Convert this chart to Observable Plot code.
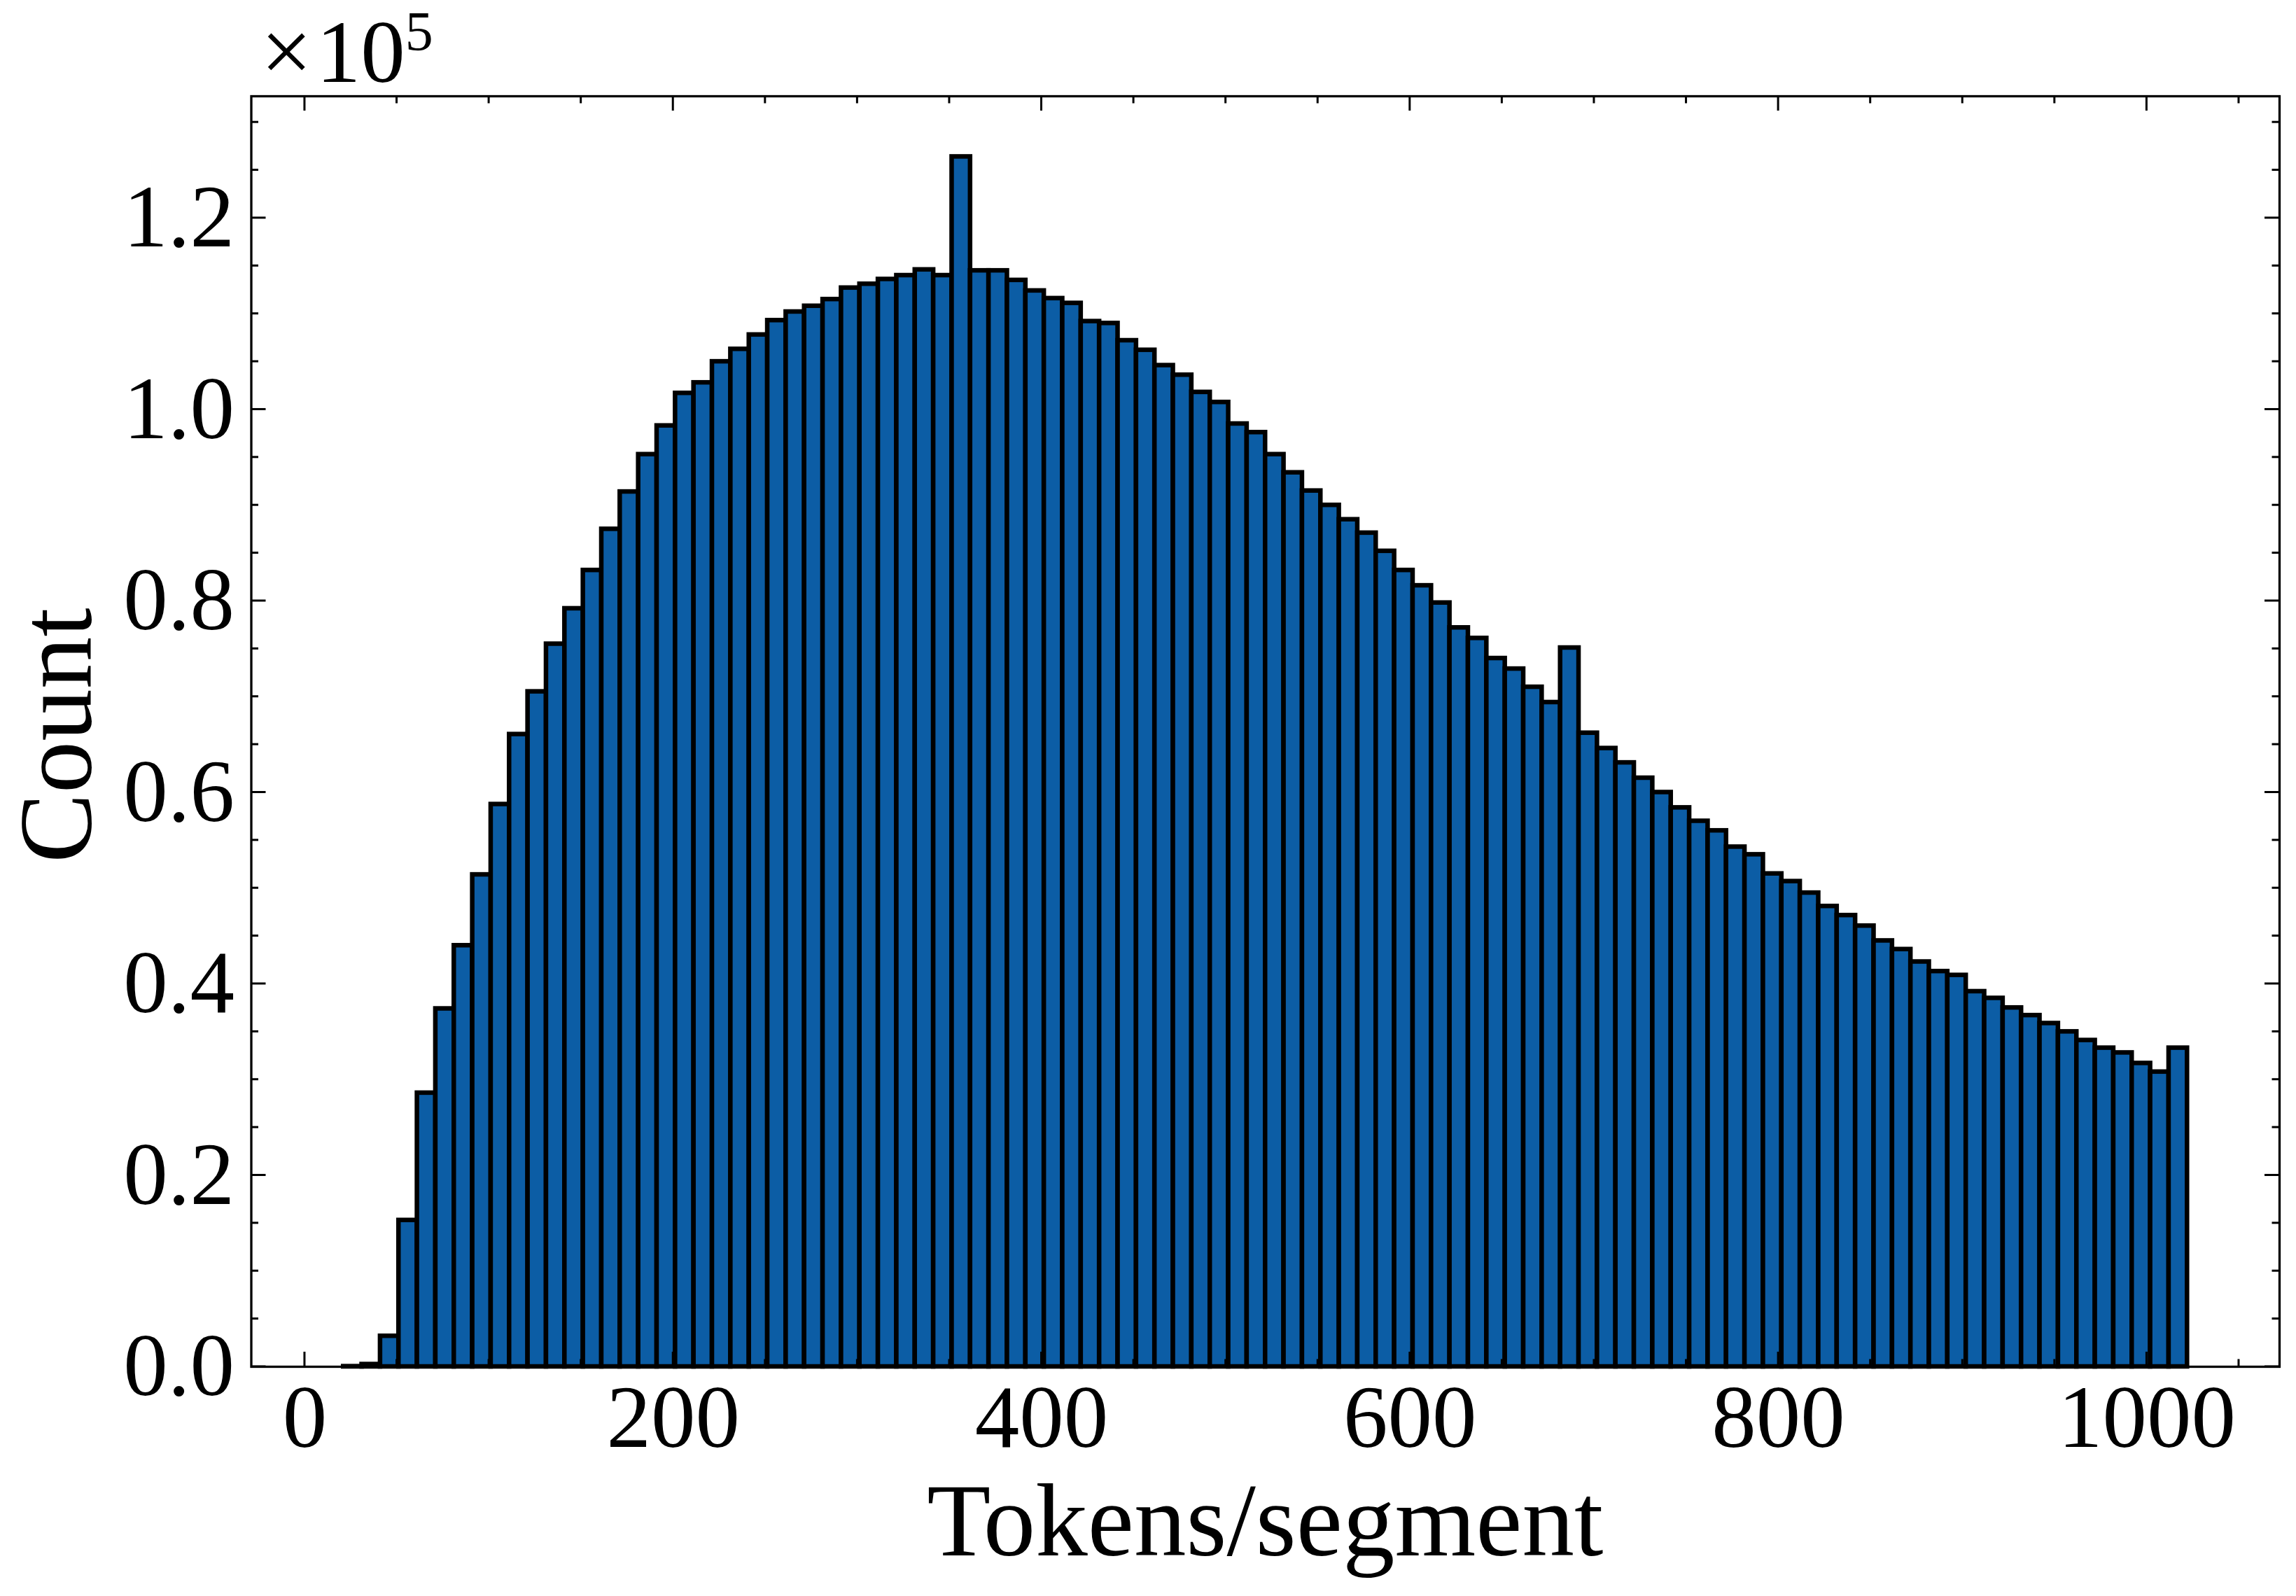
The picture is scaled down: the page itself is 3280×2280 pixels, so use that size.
<!DOCTYPE html>
<html>
<head>
<meta charset="utf-8">
<script src="https://cdn.jsdelivr.net/npm/d3@7"></script>
<script src="https://cdn.jsdelivr.net/npm/@observablehq/plot@0.6"></script>
<style>
  html, body { margin: 0; padding: 0; background: #ffffff; }
  #chart { width: 3280px; height: 2280px; }
</style>
</head>
<body>
<div id="chart"></div>
<script>
// ---------------- data ----------------
const binStart = 21;        // first bin edge (tokens)
const binWidth = 10.01;     // bin width (tokens)
const counts = [
  30, 250, 3200, 15300, 28600, 37400, 44000, 51400, 58750, 66060,
  70520, 75500, 79200, 83200, 87500, 91400, 95300, 98300, 101700, 102800,
  105000, 106300, 107800, 109300, 110200, 110800, 111500, 112700, 113100, 113600,
  114000, 114600, 114000, 126400, 114500, 114500, 113500, 112400, 111600, 111100,
  109200, 109000, 107200, 106200, 104600, 103600, 101800, 100750, 98500, 97600,
  95300, 93400, 91500, 90000, 88500, 87100, 85200, 83200, 81600, 79800,
  77200, 76100, 74000, 72900, 71000, 69400, 75100, 66200, 64600, 63100,
  61500, 60000, 58400, 57000, 56000, 54300, 53500, 51500, 50700, 49500,
  48100, 47150, 46050, 44500, 43600, 42300, 41300, 40900, 39200, 38500,
  37500, 36700, 35870, 35000, 34100, 33300, 32800, 31700, 30800, 33300
];
const xMajorTicks = [0, 200, 400, 600, 800, 1000];
const xMinorTicks = [50, 100, 150, 250, 300, 350, 450, 500, 550, 650, 700, 750, 850, 900, 950, 1050];
const yMajorTicks = [0, 20000, 40000, 60000, 80000, 100000, 120000];
const yMinorTicks = [5000, 10000, 15000, 25000, 30000, 35000, 45000, 50000, 55000, 65000, 70000, 75000,
                     85000, 90000, 95000, 105000, 110000, 115000, 125000, 130000];
const yScaleFactor = 1e5;
const yExponentText = "5";
const xLabel = "Tokens/segment";
const yLabel = "Count";

// ---------------- derived table ----------------
const bins = counts.map((c, i) => ({
  x0: binStart + i * binWidth,
  x1: binStart + (i + 1) * binWidth,
  count: c
}));
const dataMin = binStart;
const dataMax = binStart + counts.length * binWidth;
const pad = 0.05 * (dataMax - dataMin);
const yMax = d3.max(counts) * 1.05;

const FONT = "'Liberation Serif', 'Times New Roman', serif";

// inward ticks on all four sides + labels, drawn with the plot's scales
function frameDecor(index, scales, values, dimensions) {
  const {width, height, marginLeft, marginRight, marginTop, marginBottom} = dimensions;
  const left = marginLeft, right = width - marginRight;
  const top = marginTop, bottom = height - marginBottom;
  const g = d3.create("svg:g");
  const t = g.append("g").attr("stroke", "black").attr("stroke-width", 3).attr("stroke-linecap", "butt");
  const major = 21, minor = 10.5;
  const xt = (ticks, len) => {
    for (const v of ticks) {
      const x = scales.x(v);
      t.append("line").attr("x1", x).attr("x2", x).attr("y1", bottom).attr("y2", bottom - len);
      t.append("line").attr("x1", x).attr("x2", x).attr("y1", top).attr("y2", top + len);
    }
  };
  const yt = (ticks, len) => {
    for (const v of ticks) {
      const y = scales.y(v);
      t.append("line").attr("y1", y).attr("y2", y).attr("x1", left).attr("x2", left + len);
      t.append("line").attr("y1", y).attr("y2", y).attr("x1", right).attr("x2", right - len);
    }
  };
  xt(xMajorTicks, major); xt(xMinorTicks, minor);
  yt(yMajorTicks, major); yt(yMinorTicks, minor);

  // x label
  g.append("text")
    .attr("x", (left + right) / 2).attr("y", bottom + 270)
    .attr("text-anchor", "middle").attr("font-family", FONT).attr("font-size", 149)
    .attr("fill", "black").text(xLabel);
  // y label
  g.append("text")
    .attr("transform", `translate(${left - 229},${(top + bottom) / 2 + 6}) rotate(-90)`)
    .attr("text-anchor", "middle").attr("font-family", FONT).attr("font-size", 149)
    .attr("fill", "black").text(yLabel);
  // exponent
  const ex = g.append("text")
    .attr("x", left + 14).attr("y", top - 20)
    .attr("text-anchor", "start")
    .attr("font-family", FONT).attr("font-size", 127).attr("fill", "black");
  ex.append("tspan").attr("font-size", 130).text("\u00d7");
  ex.append("tspan").attr("dx", 6).text("10");
  ex.append("tspan").attr("dy", -45).attr("font-size", 80).text(yExponentText);
  return g.node();
}

const chart = Plot.plot({
  width: 3280,
  height: 2280,
  marginLeft: 358.5,
  marginRight: 24,
  marginTop: 137,
  marginBottom: 328,
  x: {domain: [dataMin - pad, dataMax + pad]},
  y: {domain: [0, yMax]},
  style: {fontFamily: FONT, background: "#ffffff", color: "black", overflow: "visible"},
  marks: [
    Plot.rectY(bins, {
      x1: "x0", x2: "x1", y: "count",
      fill: "#0C5DA5", stroke: "black", strokeWidth: 6.5, inset: 0
    }),
    Plot.frame({stroke: "black", strokeWidth: 3.3}),
    Plot.axisX(xMajorTicks, {
      tickSize: 0, tickPadding: 24, fontSize: 127,
      tickFormat: d => String(d), label: null
    }),
    Plot.axisY(yMajorTicks, {
      tickSize: 0, tickPadding: 24, fontSize: 127,
      tickFormat: d => (d / yScaleFactor).toFixed(1), label: null
    }),
    frameDecor
  ]
});
document.getElementById("chart").appendChild(chart);
</script>
</body>
</html>
